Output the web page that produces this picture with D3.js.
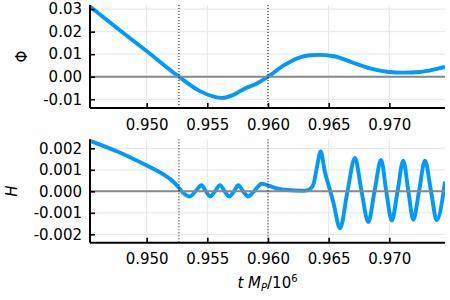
<!DOCTYPE html>
<html>
<head>
<meta charset="utf-8">
<script src="https://cdn.jsdelivr.net/npm/d3@7"></script>
<style>
  html, body { margin: 0; padding: 0; background: #fff; }
  svg { display: block; }
  text { font-family: "DejaVu Sans", sans-serif; fill: #000; }
</style>
</head>
<body>
<script>
// ---- data ----
const tPhi = [0.94533, 0.94763, 0.94994, 0.95266, 0.95439, 0.95546, 0.95621, 0.95711, 0.95810, 0.95909, 0.9600, 0.96124, 0.96264, 0.96346, 0.96413, 0.96536, 0.96701, 0.96841, 0.96981, 0.97113, 0.97253, 0.97393, 0.97459];
const phiValues = [0.0311, 0.0213, 0.0116, 0.0, -0.0064, -0.0087, -0.0094, -0.0082, -0.0052, -0.0030, 0.0, 0.0048, 0.0086, 0.0095, 0.0097, 0.0092, 0.0062, 0.0037, 0.0022, 0.0018, 0.0021, 0.0035, 0.0043];

const tH = [0.94533, 0.94763, 0.94994, 0.95077, 0.95151, 0.95209, 0.95250, 0.95289, 0.95357, 0.95402, 0.95453, 0.95489, 0.95522, 0.95563, 0.95604, 0.95643, 0.95681, 0.95720, 0.95755, 0.95796, 0.95838, 0.95885, 0.95948, 0.96017, 0.96072, 0.96154, 0.96289, 0.96330, 0.96373, 0.96401, 0.96434, 0.96469, 0.96511, 0.96538, 0.96594, 0.96655, 0.96717, 0.96771, 0.96827, 0.96878, 0.96932, 0.96975, 0.97020, 0.97068, 0.97115, 0.97157, 0.97198, 0.97245, 0.97294, 0.97344, 0.97391, 0.97459];
const hValues = [0.00235, 0.00184, 0.00122, 0.00098, 0.00074, 0.00050, 0.00027, 0.0, -0.00024, 0.0, 0.00028, 0.0, -0.00024, 0.0, 0.00028, 0.0, -0.00024, 0.0, 0.00028, 0.0, -0.00024, 0.0, 0.00035, 0.00024, 0.00014, 0.00006, 0.00003, 0.00006, 0.0003, 0.00105, 0.00185, 0.0009, 0.00006, -0.0005, -0.00172, 0.0, 0.00155, 0.0, -0.00143, 0.0, 0.00146, 0.0, -0.00136, 0.0, 0.00143, 0.0, -0.00132, 0.0, 0.00143, 0.0, -0.00135, 0.00045];

const vLines = [0.95266, 0.9600];
const xTicks = [0.950, 0.955, 0.960, 0.965, 0.970];
const xTickLabels = ["0.950", "0.955", "0.960", "0.965", "0.970"];
const phiTicks = [-0.01, 0.0, 0.01, 0.02, 0.03];
const phiTickLabels = ["-0.01", "0.00", "0.01", "0.02", "0.03"];
const hTicks = [-0.002, -0.001, 0.0, 0.001, 0.002];
const hTickLabels = ["-0.002", "-0.001", "0.000", "0.001", "0.002"];
const xDomain = [0.94533, 0.97459];
const phiDomain = [-0.01389, 0.03182];
const hDomain = [-0.00239, 0.00242];

// ---- layout ----
const W = 450, H = 300;
const left = 90, right = 445;
const svg = d3.select("body").append("svg").attr("width", W).attr("height", H);

const x = d3.scaleLinear().domain(xDomain).range([left, right]);

function panel(opts) {
  const { top, bottom, domain, ticks, tickLabels, t, v, id } = opts;
  const y = d3.scaleLinear().domain(domain).range([bottom, top]);
  const g = svg.append("g");

  svg.append("clipPath").attr("id", id).append("rect")
    .attr("x", left).attr("y", top).attr("width", right - left).attr("height", bottom - top);

  // grid
  g.selectAll(".gx").data(xTicks).enter().append("line")
    .attr("x1", d => x(d)).attr("x2", d => x(d)).attr("y1", top).attr("y2", bottom)
    .attr("stroke", "#e6e6e6").attr("stroke-width", 1);
  g.selectAll(".gy").data(ticks).enter().append("line")
    .attr("x1", left).attr("x2", right).attr("y1", d => y(d)).attr("y2", d => y(d))
    .attr("stroke", "#e6e6e6").attr("stroke-width", 1);

  const plot = g.append("g").attr("clip-path", `url(#${id})`);
  const data = t.map((tt, i) => [tt, v[i]]);
  plot.append("path").datum(data)
    .attr("fill", "none").attr("stroke", "#009AFA").attr("stroke-width", 3.9)
    .attr("stroke-linejoin", "round")
    .attr("d", d3.line().x(d => x(d[0])).y(d => y(d[1])).curve(d3.curveMonotoneX));

  // zero line
  plot.append("line").attr("x1", left).attr("x2", right).attr("y1", y(0)).attr("y2", y(0))
    .attr("stroke", "#888888").attr("stroke-width", 2);

  // dotted vertical lines
  plot.selectAll(".vl").data(vLines).enter().append("line")
    .attr("x1", d => x(d)).attr("x2", d => x(d)).attr("y1", top).attr("y2", bottom)
    .attr("stroke", "#000").attr("stroke-width", 1).attr("stroke-dasharray", "1,2");

  // axes
  const ax = d3.axisBottom(x).tickValues(xTicks).tickFormat((d, i) => xTickLabels[i])
    .tickSizeInner(-5).tickSizeOuter(0).tickPadding(11);
  const gx = g.append("g").attr("transform", `translate(0,${bottom})`).call(ax);
  gx.select(".domain").attr("stroke-width", 2).attr("d", `M${left},0H${right}`);
  gx.selectAll(".tick line").attr("stroke-width", 1.6);
  gx.selectAll("text").attr("font-size", 15).attr("font-family", "DejaVu Sans");

  const ay = d3.axisLeft(y).tickValues(ticks).tickFormat((d, i) => tickLabels[i])
    .tickSizeInner(-5).tickSizeOuter(0).tickPadding(8);
  const gy = g.append("g").attr("transform", `translate(${left},0)`).call(ay);
  gy.select(".domain").attr("stroke-width", 2).attr("d", `M0,${top}V${bottom}`);
  gy.selectAll(".tick line").attr("stroke-width", 1.6);
  gy.selectAll("text").attr("font-size", 15).attr("font-family", "DejaVu Sans");
  return y;
}

panel({ top: 5, bottom: 108, domain: phiDomain, ticks: phiTicks, tickLabels: phiTickLabels, t: tPhi, v: phiValues, id: "c1" });
panel({ top: 139.3, bottom: 242.7, domain: hDomain, ticks: hTicks, tickLabels: hTickLabels, t: tH, v: hValues, id: "c2" });

// y labels
svg.append("text").attr("transform", "translate(27,56.5) rotate(-90)")
  .attr("text-anchor", "middle").attr("font-size", 15).text("Φ");
svg.append("text").attr("transform", "translate(17,191) rotate(-90)")
  .attr("text-anchor", "middle").attr("font-size", 15).attr("font-style", "italic").text("H");

// x label
const xl = svg.append("text").attr("x", (left + right) / 2).attr("y", 288)
  .attr("text-anchor", "middle").attr("font-size", 15);
xl.append("tspan").attr("font-style", "italic").text("t");
xl.append("tspan").text(" ");
xl.append("tspan").attr("font-style", "italic").text("M");
xl.append("tspan").attr("font-style", "italic").attr("font-size", 10).attr("dy", 3).text("P");
xl.append("tspan").attr("dy", -3).text("/10");
xl.append("tspan").attr("font-size", 10).attr("dy", -6).text("6");
</script>
</body>
</html>
